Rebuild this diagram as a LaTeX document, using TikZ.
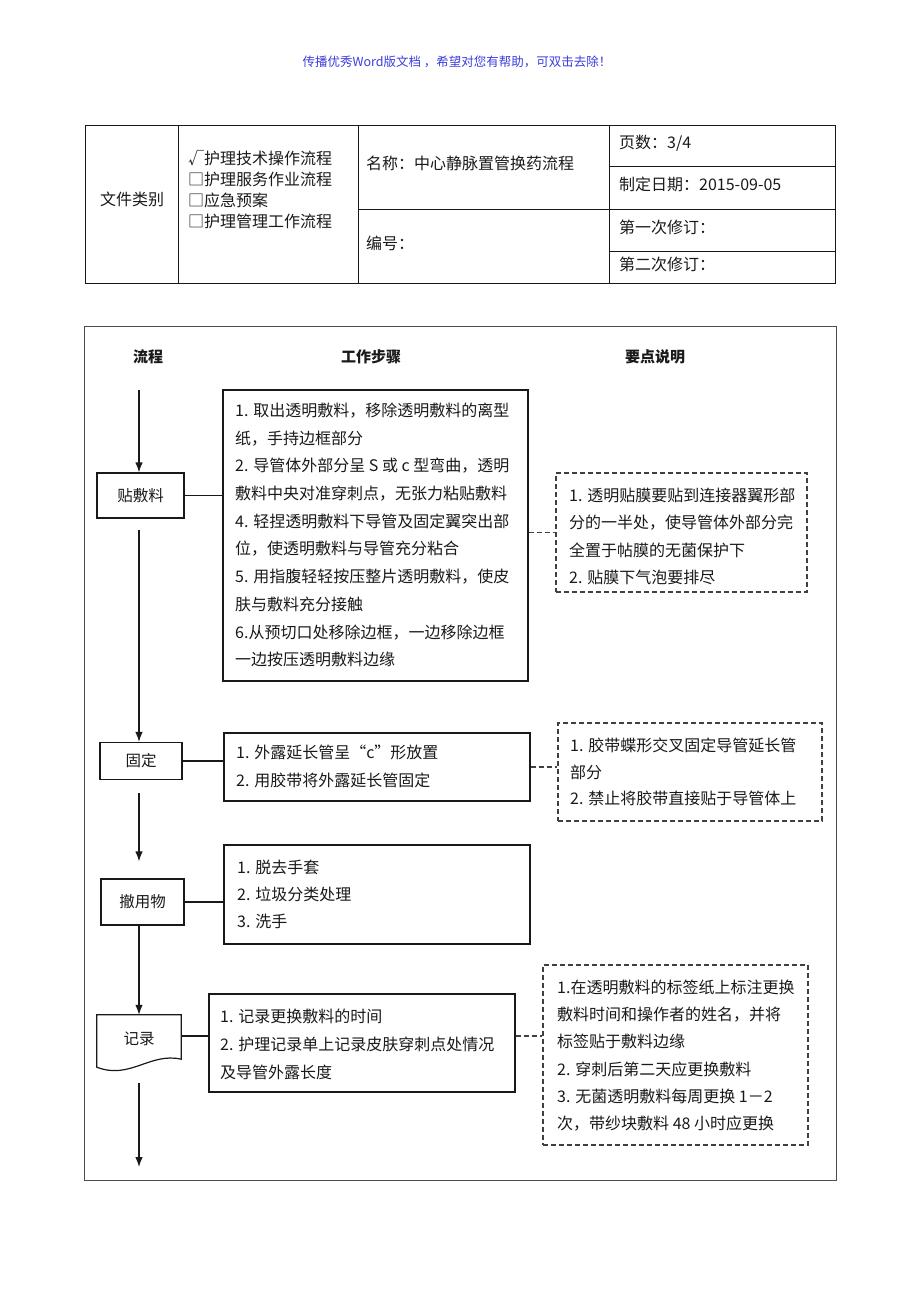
\documentclass[tikz,border=0pt]{standalone}
\usepackage{fontspec}
\setmainfont{Noto Sans CJK SC}
\usetikzlibrary{arrows.meta,calc}
\definecolor{hblue}{RGB}{60,60,220}
\definecolor{ink}{RGB}{25,25,25}
\begin{document}
\begin{tikzpicture}[x=1pt,y=-1pt,
  every node/.style={text=ink},
  box/.style={draw=ink, line width=1.2pt, inner sep=0pt, font=\fontsize{15.5}{18}\selectfont},
  dbox/.style={draw=black!75, line width=1.2pt, dash pattern=on 5pt off 3pt, inner sep=0pt},
  txt/.style={inner sep=0pt, anchor=north west, align=left},
  conn/.style={draw=ink, line width=1.2pt},
  dconn/.style={draw=black!75, line width=1.2pt, dash pattern=on 5pt off 3pt},
  arr/.style={conn, -{Latex[length=10pt,width=7.5pt]}},
  cell/.style={inner sep=0pt, anchor=west, font=\fontsize{16}{18}\selectfont},
  tab/.style={draw=ink, line width=1pt},
  frame/.style={draw=black!70, line width=1pt},
  head/.style={inner sep=0pt, font=\fontsize{15}{18}\selectfont\bfseries},
  body/.style={txt, font=\fontsize{16}{#1}\selectfont},
]
\useasboundingbox (0,0) rectangle (920,1302);

% watermark header
\node[text=hblue, font=\fontsize{12.5}{14}\selectfont] (hdr) at (457,62) {传播优秀Word版文档 ，希望对您有帮助，可双击去除！};

% ---------- table ----------
\draw[tab] (85,125) rectangle (835,283);
\draw[tab] (178,125) -- (178,283);
\draw[tab] (358,125) -- (358,283);
\draw[tab] (609,125) -- (609,283);
\draw[tab] (609,166) -- (835,166);
\draw[tab] (358,209) -- (835,209);
\draw[tab] (609,251) -- (835,251);

\node[cell, anchor=center] (cat) at (132,199) {文件类别};
\node[txt, font=\fontsize{16}{21}\selectfont] (opts) at (188,150.5) {√护理技术操作流程\\□护理服务作业流程\\□应急预案\\□护理管理工作流程};
\node[cell] (name) at (366,163) {名称：中心静脉置管换药流程};
\node[cell] (num) at (366,243) {编号：};
\node[cell] (page) at (619,143) {页数：3/4};
\node[cell] (date) at (619,184) {制定日期：2015-09-05};
\node[cell] (rev1) at (619,227) {第一次修订：};
\node[cell] (rev2) at (619,264) {第二次修订：};

% ---------- flow chart frame ----------
\draw[frame] (84,326) rectangle (836,1180);
\node[head] (h1) at (148,357) {流程};
\node[head] (h2) at (371,357) {工作步骤};
\node[head] (h3) at (655,357) {要点说明};

% flow boxes
\node[box, minimum width=87pt, minimum height=45pt] (tie) at (140.5,495.5) {贴敷料};
\node[box, minimum width=82pt, minimum height=37pt] (gu) at (141,761) {固定};
\node[box, minimum width=83pt, minimum height=46pt] (ch) at (142.5,902) {撤用物};
\node[inner sep=0pt, minimum width=84pt, minimum height=52pt, font=\fontsize{15.5}{18}\selectfont] (jl) at (139,1041) {\raisebox{5pt}{记录}};
\draw[conn] (jl.north west) -- (jl.north east) -- ($(jl.south east)+(0,-8)$)
  .. controls (150,1052) and (130,1080) .. (jl.south west) -- cycle;

% step boxes
\node[box, minimum width=305pt, minimum height=291pt] (s1) at (375.5,535.5) {};
\node[box, minimum width=306pt, minimum height=68pt] (s2) at (377,767) {};
\node[box, minimum width=306pt, minimum height=99pt] (s3) at (377,894.5) {};
\node[box, minimum width=306pt, minimum height=98pt] (s4) at (362,1043) {};

% note boxes
\node[dbox, minimum width=251pt, minimum height=119pt] (d1) at (681.5,532.5) {};
\node[dbox, minimum width=264pt, minimum height=98pt] (d2) at (690,772) {};
\node[dbox, minimum width=265pt, minimum height=180pt] (d4) at (675.5,1055) {};

% texts
\node[body=27.7] (t1) at (235,402.7) {1. 取出透明敷料，移除透明敷料的离型\\纸，手持边框部分\\2. 导管体外部分呈 S 或 c 型弯曲，透明\\敷料中央对准穿刺点，无张力粘贴敷料\\4. 轻捏透明敷料下导管及固定翼突出部\\位，使透明敷料与导管充分粘合\\5. 用指腹轻轻按压整片透明敷料，使皮\\肤与敷料充分接触\\6.从预切口处移除边框，一边移除边框\\一边按压透明敷料边缘};
\node[body=27.3] (n1) at (569,487.7) {1. 透明贴膜要贴到连接器翼形部\\分的一半处，使导管体外部分完\\全置于帖膜的无菌保护下\\2. 贴膜下气泡要排尽};
\node[body=28] (t2) at (236,745) {1. 外露延长管呈“c”形放置\\2. 用胶带将外露延长管固定};
\node[body=26.7] (n2) at (570,737.7) {1. 胶带蝶形交叉固定导管延长管\\部分\\2. 禁止将胶带直接贴于导管体上};
\node[body=27] (t3) at (237,859.7) {1. 脱去手套\\2. 垃圾分类处理\\3. 洗手};
\node[body=28] (t4) at (220,1008.7) {1. 记录更换敷料的时间\\2. 护理记录单上记录皮肤穿刺点处情况\\及导管外露长度};
\node[body=27.2] (n4) at (557,979.7) {1.在透明敷料的标签纸上标注更换\\敷料时间和操作者的姓名，并将\\标签贴于敷料边缘\\2. 穿刺后第二天应更换敷料\\3. 无菌透明敷料每周更换 1－2\\次，带纱块敷料 48 小时应更换};

% connectors
\coordinate (start) at (139,390);
\coordinate (finish) at (139,1167);
\draw[arr] (start) -- (tie.north -| start);
\draw[arr, shorten <=11pt] (tie.south -| start) -- (gu.north -| start);
\draw[arr, shorten <=13pt, shorten >=17pt] (gu.south -| start) -- (ch.north -| start);
\draw[arr] (ch.south -| start) -- (jl.north -| start);
\draw[arr, shorten <=16pt] (jl.south -| start) -- (finish);

\draw[conn] (tie.east) -- (tie.east -| s1.west);
\draw[conn] (gu.east) -- (gu.east -| s2.west);
\draw[conn] (ch.east) -- (ch.east -| s3.west);
\draw[conn] ([yshift=5pt]jl.east) -- ([yshift=5pt]jl.east -| s4.west);

\draw[dconn] (d1.west -| s1.east) -- (d1.west);
\draw[dconn] (s2.east) -- (s2.east -| d2.west);
\draw[dconn] ([yshift=5pt]jl.east -| s4.east) -- ([yshift=5pt]jl.east -| d4.west);
\end{tikzpicture}
\end{document}
